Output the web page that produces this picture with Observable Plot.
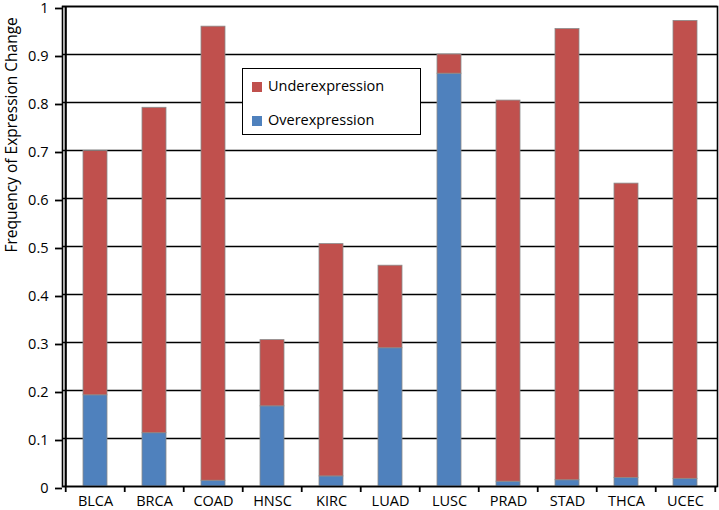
<!DOCTYPE html>
<html><head><meta charset="utf-8">
<script src="https://cdn.jsdelivr.net/npm/d3@7"></script>
<script src="https://cdn.jsdelivr.net/npm/@observablehq/plot@0.6"></script>
<style>
body{margin:0;background:#fff;font-family:"Open Sans",sans-serif;}
#wrap{position:relative;width:719px;height:510px;}
.legend{position:absolute;left:242px;top:68px;width:177px;height:65px;border:1.6px solid #000;background:#fff;font-size:14.5px;color:#000;}
.item{position:absolute;left:9px;height:20px;line-height:20px;white-space:nowrap;}
.sw{display:inline-block;width:10px;height:10px;margin-right:6px;vertical-align:-1px;}
</style></head>
<body>
<div id="wrap"></div>
<script>
const categories = ["BLCA","BRCA","COAD","HNSC","KIRC","LUAD","LUSC","PRAD","STAD","THCA","UCEC"];
const overexpression  = [0.190, 0.111, 0.012, 0.167, 0.021, 0.288, 0.860, 0.010, 0.013, 0.018, 0.016];
const underexpression = [0.509, 0.678, 0.946, 0.138, 0.484, 0.172, 0.040, 0.794, 0.940, 0.613, 0.954];
const seriesNames = ["Overexpression","Underexpression"];
const seriesColors = ["#4F81BD","#C0504D"];
const legendOrder = ["Underexpression","Overexpression"];
const yTicks = [0,0.1,0.2,0.3,0.4,0.5,0.6,0.7,0.8,0.9,1];
const yTitle = "Frequency of Expression Change";

const rows = categories.flatMap((c,i)=>[
  {cat:c, series:seriesNames[0], value:overexpression[i]},
  {cat:c, series:seriesNames[1], value:underexpression[i]}
]);

const W=719,H=510,ML=62,MR=2,MT=6,MB=24;
const step=(W-ML-MR)/categories.length;

const chart = Plot.plot({
  width:W, height:H, marginLeft:ML, marginRight:MR, marginTop:MT, marginBottom:MB,
  style:{fontFamily:"'Open Sans', sans-serif", fontSize:"15px", color:"#000", background:"#fff"},
  x:{domain:categories, paddingInner:0.6, paddingOuter:0.3, label:null},
  y:{domain:[0,1], label:null},
  color:{domain:seriesNames, range:seriesColors},
  marks:[
    Plot.gridY(yTicks,{stroke:"#000", strokeOpacity:1, strokeWidth:1.6}),
    Plot.barY(rows,{x:"cat", y:"value", fill:"series", stroke:"#8a8a8a", strokeWidth:0.8}),
    Plot.frame({stroke:"#000", strokeWidth:1.6}),
    Plot.ruleX([categories[0]],{x:d=>d, dx:-step/2, stroke:"#000", strokeWidth:2.2}),
    Plot.axisY(yTicks,{tickSize:7, tickPadding:7, strokeWidth:1.8, fontSize:14.5, label:null, dy:2, tickFormat:d=>String(+d.toFixed(1)), fill:"#000"}),
    Plot.axisX({tickSize:0, tickPadding:9, fontSize:14.5, label:null, fill:"#000"}),
    Plot.ruleX(categories,{x:d=>d, dx:-step/2, y1:0, y2:0, insetBottom:-6, stroke:"#000", strokeWidth:1.8}),
    Plot.ruleX([categories[categories.length-1]],{x:d=>d, dx:step/2, y1:0, y2:0, insetBottom:-6, stroke:"#000", strokeWidth:1.8}),
    Plot.text([yTitle],{frameAnchor:"left", dx:-50.5, dy:6, rotate:-90, fontSize:15.5, fill:"#000"})
  ]
});
const wrap=document.getElementById("wrap");
wrap.appendChild(chart);
const lg=document.createElement("div");
lg.className="legend";
legendOrder.forEach((name,k)=>{
  const it=document.createElement("div");
  it.className="item";
  it.style.top=(7+k*34)+"px";
  const sw=document.createElement("span");
  sw.className="sw";
  sw.style.background=seriesColors[seriesNames.indexOf(name)];
  it.appendChild(sw);
  it.appendChild(document.createTextNode(name));
  lg.appendChild(it);
});
wrap.appendChild(lg);
</script>
</body></html>
